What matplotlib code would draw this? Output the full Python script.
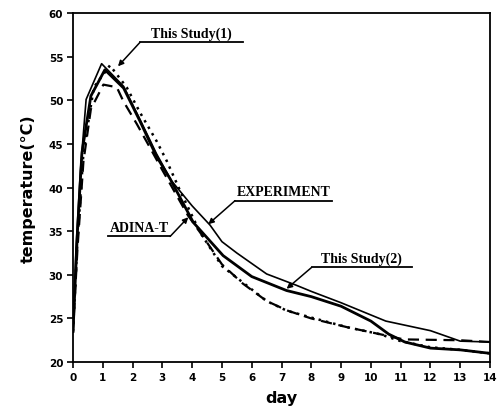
import numpy as np
import matplotlib
matplotlib.use('Agg')
import matplotlib.pyplot as plt

# temperature histories (day, deg C)
exp_day = [0, 0.1, 0.25, 0.44, 0.96, 1.7, 2.25, 2.8, 3.3, 4.0, 4.6, 5.0, 5.5, 6.5, 7.5, 8.0, 9.0, 10.5, 12.0, 13.0, 14.0]
exp_temp = [23.5, 33.0, 42.0, 50.1, 54.2, 51.6, 47.8, 43.9, 40.8, 37.9, 35.7, 33.8, 32.5, 30.1, 28.8, 28.1, 26.8, 24.7, 23.6, 22.4, 22.3]

st2_day = [0, 0.15, 0.3, 0.6, 1.07, 1.7, 2.25, 2.8, 3.26, 4.04, 5.04, 6.0, 7.17, 8.0, 9.0, 10.0, 10.6, 11.14, 12.0, 13.0, 14.0]
st2_temp = [23.5, 35.0, 44.0, 50.5, 53.5, 51.4, 47.6, 43.6, 41.0, 36.0, 32.2, 29.8, 28.2, 27.5, 26.4, 24.7, 23.2, 22.3, 21.6, 21.4, 21.0]

st1_day = [0, 0.15, 0.35, 0.7, 1.24, 1.8, 2.25, 2.81, 3.14, 3.6, 4.26, 5.0, 5.71, 6.5, 7.17, 8.0, 9.2, 10.3, 11.0, 12.0, 13.0, 14.0]
st1_temp = [23.5, 34.0, 44.0, 51.5, 54.0, 51.5, 48.6, 45.3, 43.1, 39.6, 34.9, 31.0, 29.1, 27.0, 25.9, 25.1, 24.0, 23.2, 22.4, 21.7, 21.4, 21.0]

adina_day = [0, 0.15, 0.35, 0.6, 1.02, 1.47, 1.69, 2.14, 2.58, 3.0, 3.86, 4.3, 5.0, 5.7, 6.5, 7.2, 8.0, 9.2, 10.3, 11.1, 13.0, 14.0]
adina_temp = [23.5, 33.0, 43.0, 49.0, 51.8, 51.5, 49.9, 47.3, 44.6, 42.0, 36.8, 34.7, 31.2, 29.0, 27.0, 25.9, 25.0, 24.0, 23.2, 22.6, 22.5, 22.3]

fig = plt.figure(figsize=(4.98, 4.14), dpi=100)
ax = fig.add_axes([0.1466, 0.123, 0.8374, 0.843])

ax.plot(exp_day, exp_temp, color='black', lw=1.2)
ax.plot(st2_day, st2_temp, color='black', lw=2.0)
ax.plot(st1_day, st1_temp, color='black', lw=1.8, linestyle=(0, (1, 2)))
ax.plot(adina_day, adina_temp, color='black', lw=1.6, linestyle=(0, (5, 3)))

ax.set_xlim(0, 14)
ax.set_ylim(20, 60)
ax.set_xticks(np.arange(0, 15, 1))
ax.set_yticks(np.arange(20, 61, 5))
ax.tick_params(direction='out', length=4, width=1.2, labelsize=7.5, pad=3)
for lab in ax.get_xticklabels() + ax.get_yticklabels():
    lab.set_fontweight('bold')
for sp in ax.spines.values():
    sp.set_linewidth(1.3)

ax.set_xlabel('day', fontsize=11.5, fontweight='bold', labelpad=6)
ax.set_ylabel('temperature(°C)', fontsize=11.5, fontweight='bold', labelpad=9)

# underlined labels with leader arrows
labels = [
    ('This Study(1)', 2.25, 5.7, 56.65, (1.51, 53.9)),
    ('EXPERIMENT', 5.44, 8.69, 38.5, (4.54, 35.8)),
    ('ADINA-T', 1.17, 3.26, 34.4, (3.87, 36.6)),
    ('This Study(2)', 8.01, 11.37, 30.85, (7.17, 28.4)),
]
for text, x0, x1, y, tip in labels:
    ax.plot([x0, x1], [y, y], color='black', lw=1.3)
    ax.text((x0 + x1) / 2, y + 0.3, text, ha='center', va='bottom',
            fontsize=10, fontweight='bold', family='Liberation Serif')
    start = (x0, y) if tip[0] < x0 else (x1, y)
    ax.annotate('', xy=tip, xytext=start,
                arrowprops=dict(arrowstyle='-|>', color='black', lw=1.1,
                                mutation_scale=8, shrinkA=0, shrinkB=0))

fig.savefig('out.png', dpi=100)
